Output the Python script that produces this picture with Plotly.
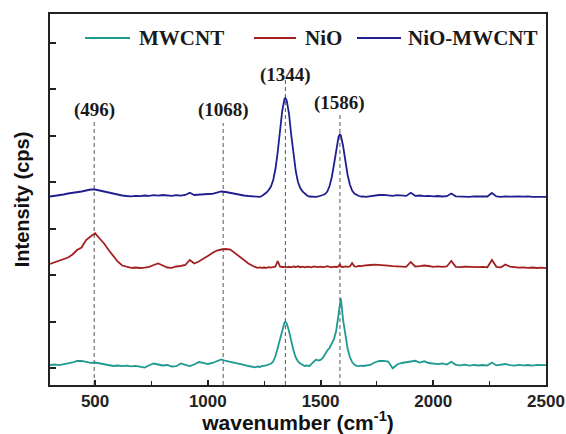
import plotly.graph_objects as go

# ---- data (intensity in cps, stacked as drawn) ----
wavenumber = [
    300, 320, 340, 360, 380, 400, 420, 440, 460, 480, 500, 520, 540, 560, 580, 600, 620, 640, 660, 680,
    700, 720, 740, 760, 780, 800, 820, 840, 860, 880, 900, 920, 940, 960, 980, 1000, 1020, 1040, 1060, 1080,
    1100, 1120, 1140, 1160, 1180, 1200,
    1210, 1220, 1230, 1240, 1250, 1260, 1270, 1280, 1290, 1300, 1310, 1320, 1330, 1340, 1344, 1350, 1360, 1370,
    1380, 1390, 1400, 1410, 1420, 1430, 1440, 1450, 1460, 1470, 1480, 1490, 1500, 1510, 1520, 1530, 1540, 1550,
    1560, 1570, 1580, 1586, 1590, 1600, 1610, 1620, 1630, 1640, 1650, 1660, 1670, 1680, 1690, 1700,
    1720, 1740, 1760, 1780, 1800, 1820, 1840, 1860, 1880, 1900, 1920, 1940, 1960, 1980, 2000, 2020, 2040, 2060,
    2080, 2100, 2120, 2140, 2160, 2180, 2200, 2220, 2240, 2260, 2280, 2300, 2320, 2340, 2360, 2380, 2400, 2420,
    2440, 2460, 2480, 2500,
]

mwcnt = [
    60, 70, 56, 80, 94, 110, 140, 144, 120, 104, 110, 90, 76, 60, 40, 50, 36, 48, 32, 44,
    30, 8, 56, 90, 70, 50, 60, 30, 36, 90, 64, 40, 70, 120, 104, 80, 100, 130, 170, 140,
    124, 110, 88, 64, 40, 16,
    12, 30, 20, 36, 40, 52, 70, 84, 130, 240, 400, 590, 780, 910, 926, 890, 740, 540,
    350, 210, 130, 90, 64, 40, 50, 36, 84, 120, 170, 150, 160, 200, 280, 350, 400, 480,
    580, 760, 1080, 1360, 1394, 960, 620, 390, 220, 120, 70, 44, 36, 48, 40, 44,
    60, 110, 140, 144, 130, -6, 70, 100, 116, 130, 144, 110, 134, 100, 90, 76, 90, 68,
    124, 64, 52, 68, 48, 64, 50, 60, 48, 110, 52, 64, 80, 56, 48, 64, 52, 60,
    48, 62, 52, 56,
]

nio = [
    2080, 2110, 2140, 2170, 2210, 2270, 2360, 2410, 2560, 2630, 2694, 2590, 2490, 2360, 2240, 2130, 2050, 2020, 2004, 2010,
    2000, 2008, 2024, 2060, 2090, 2050, 2010, 2004, 2030, 2040, 2060, 2160, 2090, 2130, 2180, 2240, 2300, 2350, 2370, 2380,
    2370, 2300, 2220, 2160, 2090, 2040,
    2020, 2004, 2012, 2002, 2010, 2004, 2016, 2008, 2020, 2030, 2140, 2030, 2020, 2028, 2024, 2012, 2024, 2014,
    2030, 2020, 2034, 2016, 2026, 2012, 2028, 2022, 2014, 2030, 2024, 2018, 2028, 2016, 2022, 2036, 2024, 2014,
    2026, 2020, 2030, 2080, 2028, 2020, 2032, 2024, 2032, 2100, 2034, 2028, 2040, 2036, 2048, 2056,
    2060, 2068, 2064, 2060, 2048, 2036, 2028, 2034, 2024, 2120, 2030, 2036, 2050, 2040, 2024, 2032, 2022, 2030,
    2140, 2024, 2016, 2026, 2020, 2028, 2018, 2024, 2016, 2160, 2024, 2014, 2070, 2028, 2016, 2008, 2014, 2004,
    2010, 2000, 2006, 1996,
]

nio_mwcnt = [
    3430, 3440, 3450, 3470, 3490, 3500, 3520, 3530, 3550, 3570, 3570, 3550, 3530, 3500, 3480, 3460, 3450, 3440, 3434, 3444,
    3436, 3450, 3444, 3456, 3448, 3460, 3452, 3444, 3456, 3448, 3460, 3504, 3460, 3470, 3468, 3480, 3484, 3510, 3530, 3520,
    3500, 3484, 3468, 3450, 3440, 3430,
    3428, 3432, 3424, 3440, 3470, 3510, 3560, 3630, 3760, 3980, 4320, 4730, 5140, 5380, 5400, 5350, 5090, 4660,
    4240, 3940, 3720, 3600, 3530, 3484, 3450, 3430, 3424, 3432, 3422, 3430, 3440, 3460, 3480, 3530, 3640, 3820,
    4080, 4380, 4630, 4670, 4650, 4440, 4140, 3860, 3670, 3550, 3490, 3460, 3440, 3428, 3434, 3424,
    3440, 3456, 3460, 3464, 3452, 3444, 3456, 3448, 3442, 3504, 3444, 3450, 3436, 3444, 3432, 3440, 3430, 3436,
    3490, 3434, 3428, 3436, 3424, 3432, 3428, 3436, 3430, 3500, 3432, 3424, 3434, 3428, 3422, 3430, 3426, 3434,
    3424, 3428, 3422, 3424,
]

series_names = ["MWCNT", "NiO", "NiO-MWCNT"]
series_values = [mwcnt, nio, nio_mwcnt]
series_colors = ["#1e9a92", "#a3201f", "#1f1f8f"]

peak_positions = [496, 1068, 1344, 1586]
peak_labels = ["(496)", "(1068)", "(1344)", "(1586)"]
peak_label_y = [5160, 5160, 5860, 5300]
peak_line_top = [4940, 4900, 5760, 5100]

x_ticks = [500, 1000, 1500, 2000, 2500]
y_tick_step = 928.6

fig = go.Figure()
for name, vals, col in zip(series_names, series_values, series_colors):
    fig.add_trace(go.Scatter(x=wavenumber, y=vals, mode="lines", name=name,
                             line=dict(color=col, width=1.8), showlegend=False))

Y_MIN, Y_MAX = -340, 7080

for xp, lab, ly, top in zip(peak_positions, peak_labels, peak_label_y, peak_line_top):
    fig.add_shape(type="line", xref="x", yref="y", x0=xp, x1=xp, y0=Y_MIN, y1=top,
                  line=dict(color="#555555", width=1, dash="4px,3px"), layer="below")
    fig.add_annotation(x=xp, y=ly, xref="x", yref="y", text=lab, showarrow=False,
                       font=dict(family="Liberation Serif", size=19, color="#1a1a1a", weight="bold"))

# manual legend
legend_line_x = [(85, 130), (254, 296), (357, 401)]
legend_text_x = [137, 303, 406]
PL, PW, PT, PH = 50, 496, 14, 371
ly_paper = (PT + PH - 38) / PH
for (a, b), tx, name, col in zip(legend_line_x, legend_text_x, series_names, series_colors):
    fig.add_shape(type="line", xref="paper", yref="paper",
                  x0=(a - PL) / PW, x1=(b - PL) / PW, y0=ly_paper, y1=ly_paper,
                  line=dict(color=col, width=1.8))
    fig.add_annotation(x=(tx - PL) / PW, y=ly_paper, xref="paper", yref="paper", text=name,
                       showarrow=False, xanchor="left", yanchor="middle",
                       font=dict(family="Liberation Serif", size=21, color="#1a1a1a", weight="bold"))

fig.update_layout(
    width=566, height=434,
    margin=dict(l=PL, r=566 - PL - PW, t=PT, b=434 - PT - PH),
    paper_bgcolor="white", plot_bgcolor="white",
    showlegend=False,
)
fig.update_xaxes(
    range=[300, 2500], tickvals=x_ticks, ticks="inside", ticklen=5, tickwidth=1.5, tickcolor="#222",
    showline=True, linecolor="#222", linewidth=1.5, mirror=True, showgrid=False, zeroline=False,
    automargin=False,
    tickfont=dict(family="Liberation Sans", size=17, color="#222", weight="bold"),
    minor=dict(tickvals=[750, 1250, 1750, 2250], ticks="inside", ticklen=4, tickwidth=1.2, tickcolor="#222"),
    title=dict(text="wavenumber (cm<sup>-1</sup>)", standoff=3,
               font=dict(family="Liberation Sans", size=21, color="#111", weight="bold")),
)
fig.update_yaxes(
    range=[Y_MIN, Y_MAX], tick0=0, dtick=y_tick_step, ticks="inside", ticklen=6, tickwidth=1.5, tickcolor="#222",
    showticklabels=False, showline=True, linecolor="#222", linewidth=1.5, mirror=True,
    showgrid=False, zeroline=False, automargin=False,
    title=dict(text="Intensity (cps)", standoff=13,
               font=dict(family="Liberation Sans", size=20, color="#111", weight="bold")),
)

fig.write_html("out.html")
